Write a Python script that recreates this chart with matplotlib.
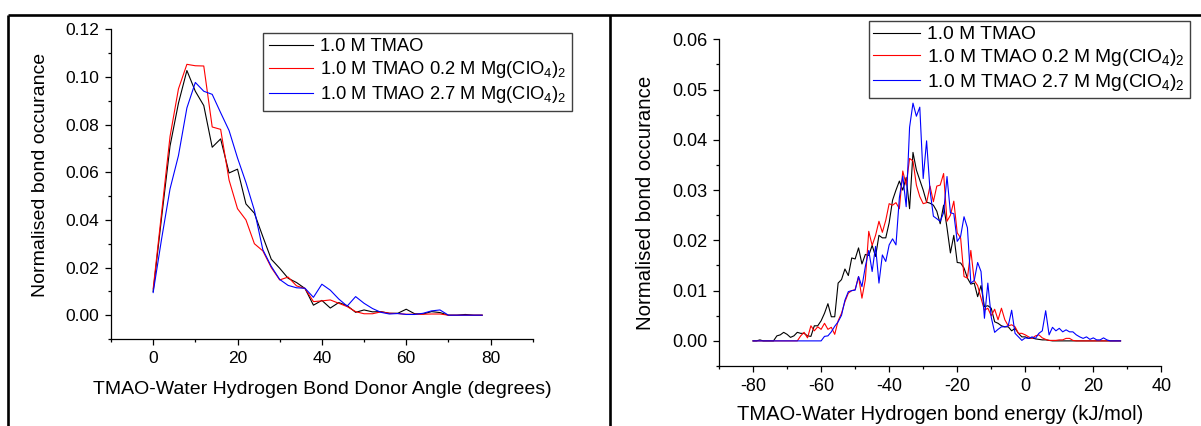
import matplotlib
matplotlib.use('Agg')
import matplotlib.pyplot as plt
from matplotlib.ticker import MultipleLocator, FormatStrFormatter
from matplotlib.lines import Line2D

plt.rcParams['font.family'] = ['Liberation Sans', 'DejaVu Sans']
plt.rcParams['mathtext.fontset'] = 'custom'
plt.rcParams['mathtext.rm'] = 'Liberation Sans'
plt.rcParams['mathtext.it'] = 'Liberation Sans'
plt.rcParams['mathtext.default'] = 'rm'
plt.rcParams['axes.unicode_minus'] = False

labels = ['1.0 M TMAO',
          r'1.0 M TMAO 0.2 M Mg(ClO$_4$)$_2$',
          r'1.0 M TMAO 2.7 M Mg(ClO$_4$)$_2$']
colors = ['black', 'red', 'blue']

# left panel: donor angle (degrees), step 2
angle = list(range(0, 80, 2))
angle_tmao = [0.010, 0.041, 0.071, 0.089, 0.1027, 0.094, 0.088, 0.0705, 0.074, 0.0597,
              0.0613, 0.0467, 0.0428, 0.033, 0.0235, 0.0197, 0.0155, 0.0137, 0.0112, 0.0042,
              0.0062, 0.0030, 0.0053, 0.0040, 0.0012, 0.0022, 0.0014, 0.0015, 0.0008, 0.0008,
              0.0025, 0.0006, 0.0005, 0.0015, 0.0011, 0.0, 0.0, 0.0003, 0.0, 0.0]
angle_02 = [0.011, 0.043, 0.075, 0.095, 0.1053, 0.1047, 0.1046, 0.079, 0.078, 0.0567,
            0.0447, 0.040, 0.030, 0.027, 0.020, 0.0148, 0.016, 0.0123, 0.0112, 0.0057,
            0.006, 0.0064, 0.005, 0.0036, 0.0015, 0.0006, 0.0006, 0.0014, 0.0008, 0.0007,
            0.0004, 0.0004, 0.0004, 0.0005, 0.0005, 0.0, 0.0, 0.0, 0.0, 0.0]
angle_27 = [0.0095, 0.032, 0.053, 0.067, 0.087, 0.0977, 0.094, 0.0927, 0.085, 0.0775,
            0.066, 0.0557, 0.044, 0.0275, 0.0205, 0.015, 0.0125, 0.0115, 0.0113, 0.0075,
            0.013, 0.0105, 0.0068, 0.0038, 0.0078, 0.005, 0.0028, 0.0012, 0.0005, 0.0007,
            0.0003, 0.0003, 0.0008, 0.0018, 0.0022, 0.0, 0.0, 0.0, 0.0, 0.0]

# right panel: bond energy (kJ/mol), step 1
energy = list(range(-80, 29))
energy_tmao = [0, 0, 0.0002, 0, 0, 0, 0, 0.001, 0.0012, 0.0017,
               0.0013, 0.0007, 0.001, 0.0017, 0.0015, 0.0015, 0.001, 0.0009, 0.003, 0.003,
               0.004, 0.0055, 0.0074, 0.0048, 0.0048, 0.0115, 0.0122, 0.0143, 0.013, 0.0165,
               0.0163, 0.0185, 0.0153, 0.0172, 0.017, 0.019, 0.0168, 0.021, 0.0205, 0.0205,
               0.0235, 0.028, 0.030, 0.0318, 0.030, 0.0325, 0.0263, 0.0375, 0.034, 0.032,
               0.030, 0.0276, 0.0274, 0.027, 0.0258, 0.0233, 0.027, 0.0225, 0.0175, 0.021,
               0.0156, 0.0155, 0.0145, 0.0125, 0.0113, 0.0115, 0.0088, 0.011, 0.0068, 0.007,
               0.0065, 0.0038, 0.0035, 0.003, 0.0028, 0.0028, 0.002, 0.0025, 0.0015, 0.0008,
               0.0008, 0.0005, 0.0006, 0.0004, 0.0003, 0.0002, 0.0002, 0.0001, 0, 0,
               0, 0, 0, 0, 0, 0, 0, 0, 0, 0,
               0, 0, 0, 0, 0, 0, 0, 0, 0]
energy_02 = [0, 0, 0, 0, 0, 0, 0, 0, 0, 0,
             0, 0, 0, 0, 0.001, 0.0017, 0.0006, 0.003, 0.002, 0.0028,
             0.0023, 0.0035, 0.0023, 0.0027, 0.0013, 0.004, 0.0055, 0.0078, 0.0095, 0.010,
             0.0102, 0.0128, 0.0085, 0.0122, 0.0218, 0.019, 0.021, 0.0238, 0.0216, 0.024,
             0.0273, 0.027, 0.0275, 0.0263, 0.0338, 0.031, 0.0363, 0.0358, 0.031, 0.0287,
             0.0273, 0.0275, 0.0308, 0.0277, 0.0308, 0.031, 0.0333, 0.0238, 0.025, 0.0278,
             0.0215, 0.0205, 0.0128, 0.0125, 0.018, 0.012, 0.011, 0.0085, 0.0061, 0.0065,
             0.005, 0.0063, 0.0042, 0.0065, 0.0042, 0.003, 0.0032, 0.0028, 0.0015, 0.0015,
             0.0012, 0.0008, 0.0005, 0.001, 0.0012, 0.0006, 0.0003, 0.0001, 0.0001, 0.0001,
             0.0002, 0.0002, 0.0005, 0.0005, 0.0001, 0, 0, 0, 0, 0,
             0, 0, 0, 0, 0, 0, 0, 0, 0]
energy_27 = [0, 0, 0, 0, 0, 0, 0, 0, 0, 0,
             0, 0, 0, 0, 0, 0, 0, 0, 0, 0,
             0, 0.0009, 0.001, 0.0018, 0.0029, 0.0038, 0.0051, 0.0081, 0.0098, 0.010,
             0.0101, 0.0128, 0.0108, 0.0148, 0.018, 0.0138, 0.0188, 0.0115, 0.0171, 0.0158,
             0.0191, 0.0203, 0.0191, 0.0285, 0.0328, 0.0267, 0.0425, 0.0473, 0.0447, 0.0465,
             0.0323, 0.0398, 0.030, 0.0248, 0.0243, 0.0238, 0.0255, 0.0327, 0.0255, 0.0253,
             0.0198, 0.0208, 0.0247, 0.0225, 0.0115, 0.012, 0.0156, 0.0138, 0.0045, 0.0115,
             0.0047, 0.0017, 0.0023, 0.0028, 0.0028, 0.003, 0.0061, 0.0015, 0.0008, 0.0001,
             0.0006, 0.0005, 0.0008, 0.0005, 0.0015, 0.002, 0.006, 0.0012, 0.0027, 0.002,
             0.0025, 0.0018, 0.0022, 0.0018, 0.0018, 0.0012, 0.0008, 0.0005, 0.0008, 0.0003,
             0.0006, 0.0002, 0.0002, 0.0006, 0.0002, 0, 0, 0, 0]

fig = plt.figure(figsize=(12.01, 4.26), dpi=100)

# table-like frame lines
for x0, x1, y0, y1 in [(8 / 1201, 1.0, 1 - 15 / 426, 1 - 15 / 426),
                       (8.3 / 1201, 8.3 / 1201, 0.0, 1 - 15 / 426),
                       (610 / 1201, 610 / 1201, 0.0, 1 - 15 / 426)]:
    fig.add_artist(Line2D([x0, x1], [y0, y1], transform=fig.transFigure,
                          color='black', lw=1.9, solid_capstyle='butt'))


def style_axis(ax, size):
    ax.spines['top'].set_visible(False)
    ax.spines['right'].set_visible(False)
    ax.tick_params(which='both', direction='out', width=0.9, labelsize=size, pad=4)
    ax.tick_params(which='major', length=4.5)
    ax.tick_params(which='minor', length=2.5)
    for s in ['left', 'bottom']:
        ax.spines[s].set_linewidth(0.9)


ax1 = fig.add_axes([0.0924, 0.2042, 0.3512, 0.727])
for ys, c, lab in zip([angle_tmao, angle_02, angle_27], colors, labels):
    ax1.plot(angle, ys, color=c, lw=0.8, label=lab)
ax1.set_xlim(-10, 90)
ax1.set_ylim(-0.01, 0.12)
ax1.xaxis.set_major_locator(MultipleLocator(20))
ax1.xaxis.set_minor_locator(MultipleLocator(10))
ax1.yaxis.set_major_locator(MultipleLocator(0.02))
ax1.yaxis.set_minor_locator(MultipleLocator(0.01))
ax1.yaxis.set_major_formatter(FormatStrFormatter('%.2f'))
ax1.set_xticks([0, 20, 40, 60, 80])
style_axis(ax1, 12.5)
ax1.set_xlabel('TMAO-Water Hydrogen Bond Donor Angle (degrees)', fontsize=14, labelpad=11)
ax1.set_ylabel('Normalised bond occurance', fontsize=14)
ax1.yaxis.set_label_coords(-0.147, 0.53)
ax1.legend(loc='upper right', bbox_to_anchor=(572 / 1201, 1 - 32.7 / 426),
           bbox_transform=fig.transFigure, borderaxespad=0, fontsize=13.2,
           fancybox=False, edgecolor='#404040', framealpha=1,
           handlelength=2.4, handletextpad=0.4, labelspacing=0.22, borderpad=0.3)

ax2 = fig.add_axes([0.5987, 0.1408, 0.3683, 0.7669])
for ys, c, lab in zip([energy_tmao, energy_02, energy_27], colors, labels):
    ax2.plot(energy, ys, color=c, lw=0.8, label=lab)
ax2.set_xlim(-90, 40)
ax2.set_ylim(-0.005, 0.06)
ax2.xaxis.set_major_locator(MultipleLocator(20))
ax2.xaxis.set_minor_locator(MultipleLocator(10))
ax2.yaxis.set_major_locator(MultipleLocator(0.01))
ax2.yaxis.set_minor_locator(MultipleLocator(0.005))
ax2.yaxis.set_major_formatter(FormatStrFormatter('%.2f'))
ax2.set_xticks([-80, -60, -40, -20, 0, 20, 40])
style_axis(ax2, 13)
ax2.set_xlabel('TMAO-Water Hydrogen bond energy (kJ/mol)', fontsize=14.5, labelpad=7)
ax2.set_ylabel('Normalised bond occurance', fontsize=14.7, labelpad=12)
ax2.legend(loc='upper right', bbox_to_anchor=(1190 / 1201, 1 - 21 / 426),
           bbox_transform=fig.transFigure, borderaxespad=0, fontsize=13.9,
           fancybox=False, edgecolor='#404040', framealpha=1,
           handlelength=2.4, handletextpad=0.4, labelspacing=0.2, borderpad=0.25)

fig.savefig('out.png', dpi=100)
